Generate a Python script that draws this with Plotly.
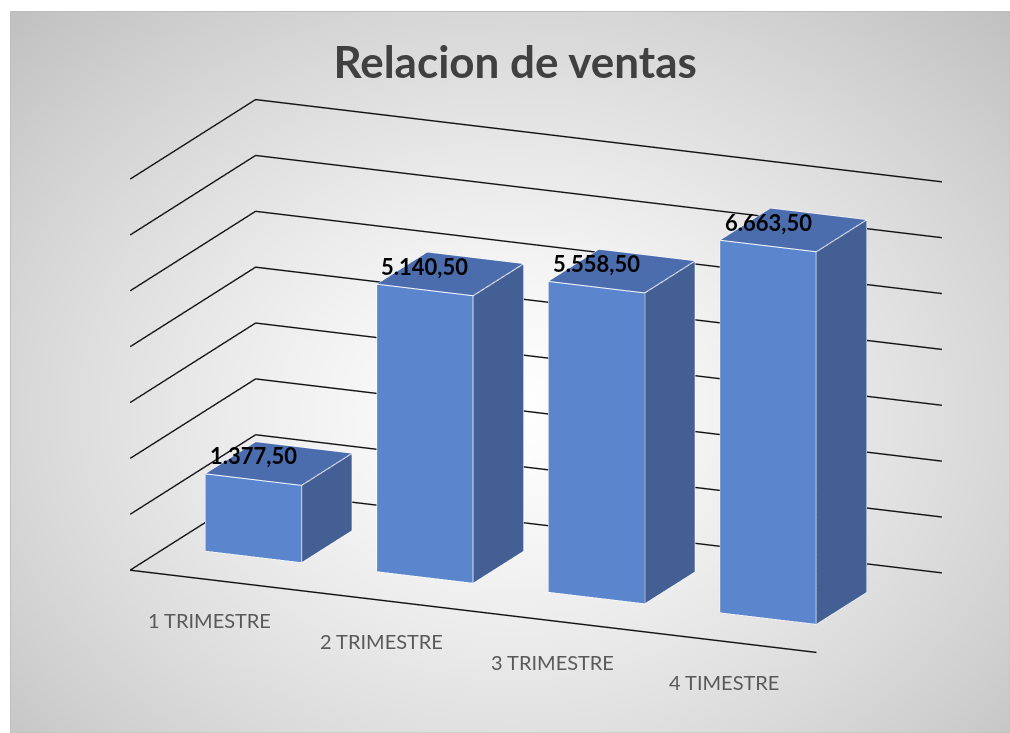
import base64, struct, zlib
import numpy as np
import plotly.graph_objects as go

# ---------------- data ----------------
categories = ["1 TRIMESTRE", "2 TRIMESTRE", "3 TRIMESTRE", "4 TIMESTRE"]
values = [1377.50, 5140.50, 5558.50, 6663.50]
value_labels = ["1.377,50", "5.140,50", "5.558,50", "6.663,50"]
grid_ticks = [0, 1000, 2000, 3000, 4000, 5000, 6000, 7000]
title_text = "Relacion de ventas"

# ---------------- styling ----------------
FRONT = "#5B86CE"
SIDE = "#445F94"
TOP = "#4B6DAE"
BAR_W = 0.56
Y0, Y1 = 0.30, 0.70
ZMAX = grid_ticks[-1]
NCAT = len(categories)

# ---------------- background gradient (PNG data uri) ----------------
def png_uri(arr):
    h, w, _ = arr.shape
    raw = b"".join(b"\x00" + arr[i].tobytes() for i in range(h))
    def chunk(t, d):
        c = struct.pack(">I", len(d)) + t + d
        return c + struct.pack(">I", zlib.crc32(t + d) & 0xFFFFFFFF)
    png = (b"\x89PNG\r\n\x1a\n" + chunk(b"IHDR", struct.pack(">IIBBBBB", w, h, 8, 2, 0, 0, 0))
           + chunk(b"IDAT", zlib.compress(raw, 9)) + chunk(b"IEND", b""))
    return "data:image/png;base64," + base64.b64encode(png).decode()

GW, GH = 250, 180
yy, xx = np.mgrid[0:GH, 0:GW]
cx, cy = GW * 0.5, GH * 0.55
d = np.sqrt(((xx - cx) / (GW * 0.5)) ** 2 + ((yy - cy) / (GH * 0.55)) ** 2) / np.sqrt(2)
val = 255 - 62 * np.clip(d, 0, 1) ** 1.3
img = np.repeat(val[:, :, None], 3, axis=2).astype(np.uint8)
bg_uri = png_uri(img)

fig = go.Figure()

# ---------------- walls gridlines ----------------
gx, gy, gz = [], [], []
for t in grid_ticks:
    gx += [0, 0, NCAT, None]
    gy += [0, 1, 1, None]
    gz += [t, t, t, None]
gx += [0, NCAT, None]
gy += [0, 0, None]
gz += [0, 0, None]
fig.add_trace(go.Scatter3d(x=gx, y=gy, z=gz, mode="lines",
                           line=dict(color="#111111", width=2.8),
                           hoverinfo="skip", showlegend=False))

# ---------------- bars (Mesh3d boxes) ----------------
for i, v in enumerate(values):
    x0 = i + 0.5 - BAR_W / 2
    x1 = i + 0.5 + BAR_W / 2
    vx = [x0, x1, x1, x0, x0, x1, x1, x0]
    vy = [Y0, Y0, Y1, Y1, Y0, Y0, Y1, Y1]
    vz = [0, 0, 0, 0, v, v, v, v]
    tri = [
        (0, 1, 5, FRONT), (0, 5, 4, FRONT),      # front
        (1, 2, 6, SIDE), (1, 6, 5, SIDE),        # right
        (4, 5, 6, TOP), (4, 6, 7, TOP),          # top
        (3, 2, 6, FRONT), (3, 6, 7, FRONT),      # back
        (0, 3, 7, SIDE), (0, 7, 4, SIDE),        # left
        (0, 1, 2, FRONT), (0, 2, 3, FRONT),      # bottom
    ]
    fig.add_trace(go.Mesh3d(
        x=vx, y=vy, z=vz,
        i=[t[0] for t in tri], j=[t[1] for t in tri], k=[t[2] for t in tri],
        facecolor=[t[3] for t in tri], flatshading=True, opacity=1,
        lighting=dict(ambient=1, diffuse=0, specular=0, roughness=1, fresnel=0),
        hoverinfo="skip", showscale=False,
    ))
    ex, ey, ez = [], [], []
    for path in ([0, 1, 5, 4, 0], [4, 7, 6, 5], [1, 2, 6]):
        for p in path:
            ex.append(vx[p]); ey.append(vy[p]); ez.append(vz[p])
        ex.append(None); ey.append(None); ez.append(None)
    fig.add_trace(go.Scatter3d(x=ex, y=ey, z=ez, mode="lines",
                               line=dict(color="white", width=2),
                               hoverinfo="skip", showlegend=False))

# ---------------- annotations ----------------
ann = []
for i, v in enumerate(values):
    ann.append(dict(x=i + 0.5, y=Y0, z=v, text="<b>" + value_labels[i] + "</b>", showarrow=False,
                    yshift=24, font=dict(family="Lato", size=22, color="black")))
    ann.append(dict(x=i + 0.5, y=0, z=0, text=categories[i], showarrow=False,
                    xshift=-6, yshift=-40, font=dict(family="Lato", size=20, color="#595959")))

R = 1.3
th, ph = np.radians(23.5), np.radians(16.0)
eye = dict(x=R * np.cos(ph) * np.sin(th), y=-R * np.cos(ph) * np.cos(th), z=R * np.sin(ph))
S = 2.15

axis_off = dict(visible=False, showgrid=False, showbackground=False, zeroline=False,
                showspikes=False)
fig.update_layout(
    width=1010, height=733,
    margin=dict(l=0, r=0, t=0, b=0),
    paper_bgcolor="white", plot_bgcolor="rgba(0,0,0,0)",
    showlegend=False,
    title=dict(text=title_text, x=0.51, xanchor="center", y=0.915, yanchor="middle",
               font=dict(family="Lato", size=44, color="#404040", weight="bold")),
    images=[dict(source=bg_uri, xref="paper", yref="paper", x=10 / 1010, y=1 - 11 / 733,
                 sizex=1000 / 1010, sizey=722 / 733, xanchor="left", yanchor="top",
                 sizing="stretch", layer="below")],
    shapes=[dict(type="rect", xref="paper", yref="paper", x0=10.5 / 1010, x1=1.0,
                 y0=0, y1=1 - 11.5 / 733, line=dict(color="#BFBFBF", width=1),
                 layer="below")],
    scene=dict(
        domain=dict(x=[0.068, 0.993], y=[0.0, 0.974]),
        xaxis=dict(range=[0, NCAT], **axis_off),
        yaxis=dict(range=[0, 1], **axis_off),
        zaxis=dict(range=[0, ZMAX], **axis_off),
        aspectmode="manual",
        aspectratio=dict(x=0.975 * S, y=0.41 * S, z=0.53 * S),
        camera=dict(eye=eye, center=dict(x=0, y=0, z=0), up=dict(x=0, y=0, z=1),
                    projection=dict(type="orthographic")),
        bgcolor="rgba(0,0,0,0)",
        annotations=ann,
    ),
)

fig.write_html("out.html", config={"displayModeBar": False},
               post_script="document.body.style.margin='0';")
